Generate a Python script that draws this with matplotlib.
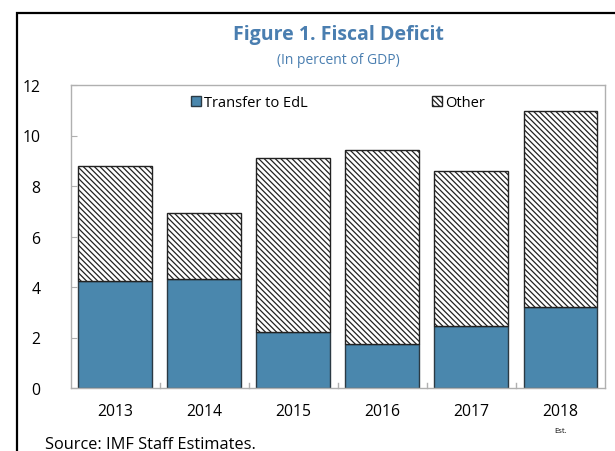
import matplotlib
matplotlib.use("Agg")
import matplotlib.pyplot as plt
from matplotlib.patches import Rectangle
import numpy as np

years = ["2013", "2014", "2015", "2016", "2017", "2018"]
transfer_edl = [4.24, 4.32, 2.22, 1.74, 2.46, 3.21]
total_deficit = [8.79, 6.93, 9.11, 9.43, 8.59, 10.97]
other = [t - e for t, e in zip(total_deficit, transfer_edl)]
yticks = [0, 2, 4, 6, 8, 10, 12]

plt.rcParams['font.family'] = ['Open Sans', 'DejaVu Sans']
plt.rcParams['hatch.linewidth'] = 0.9

W, H = 615, 452
fig = plt.figure(figsize=(W / 100, H / 100), dpi=100)

def fx(px):
    return px / W

def fy(py):
    return 1 - py / H

# outer frame
fig.patches.append(Rectangle((fx(16.5), fy(500)), fx(700), fy(14) - fy(500),
                             transform=fig.transFigure, fill=False,
                             edgecolor='black', linewidth=1.6))

ax = fig.add_axes([fx(70.7), fy(389), fx(605) - fx(70.7), fy(86) - fy(389)])

x = np.arange(len(years))
blue = '#4a87ad'
b1 = ax.bar(x, transfer_edl, width=0.83, color=blue, edgecolor='#2b3a44',
            linewidth=1.0, label='Transfer to EdL')
b2 = ax.bar(x, other, bottom=transfer_edl, width=0.83, color='white',
            edgecolor='#222222', hatch='\\\\\\\\\\\\', linewidth=1.0,
            label='Other')

ax.set_xlim(-0.5, len(years) - 0.5)
ax.set_ylim(0, 12)
ax.set_yticks(yticks)
ax.set_yticklabels([str(v) for v in yticks], fontsize=11.3)
ax.set_xticks(x)
ax.set_xticklabels(years, fontsize=11.3)
ax.tick_params(axis='x', length=0, pad=11)
ax.tick_params(axis='y', direction='in', length=4, color='#b0b0b0', pad=22)
for xb in np.arange(0.5, len(years) - 1, 1.0):
    ax.plot([xb, xb], [0, 0.2], color='#b0b0b0', lw=1.0, clip_on=False)
for s in ax.spines.values():
    s.set_color('#b0b0b0')
    s.set_linewidth(1.0)

ax.text(5, -1.7, 'Est.', ha='center', va='center', fontsize=5.5)

leg = ax.legend(loc='upper center', bbox_to_anchor=(0.5, 1.0), ncol=2,
                frameon=False, fontsize=10.5, handlelength=0.7,
                handleheight=0.7, handletextpad=0.2, columnspacing=8.5,
                borderaxespad=0.3)

fig.text(fx(338), fy(35), 'Figure 1. Fiscal Deficit', ha='center', va='center',
         fontsize=14, fontweight='bold', color='#4a7eb0')
fig.text(fx(338), fy(60), '(In percent of GDP)', ha='center', va='center',
         fontsize=10, color='#4a7eb0')
fig.text(fx(45), fy(445), 'Source: IMF Staff Estimates.', ha='left',
         va='center', fontsize=11.8)

fig.savefig('out.png', dpi=100)
